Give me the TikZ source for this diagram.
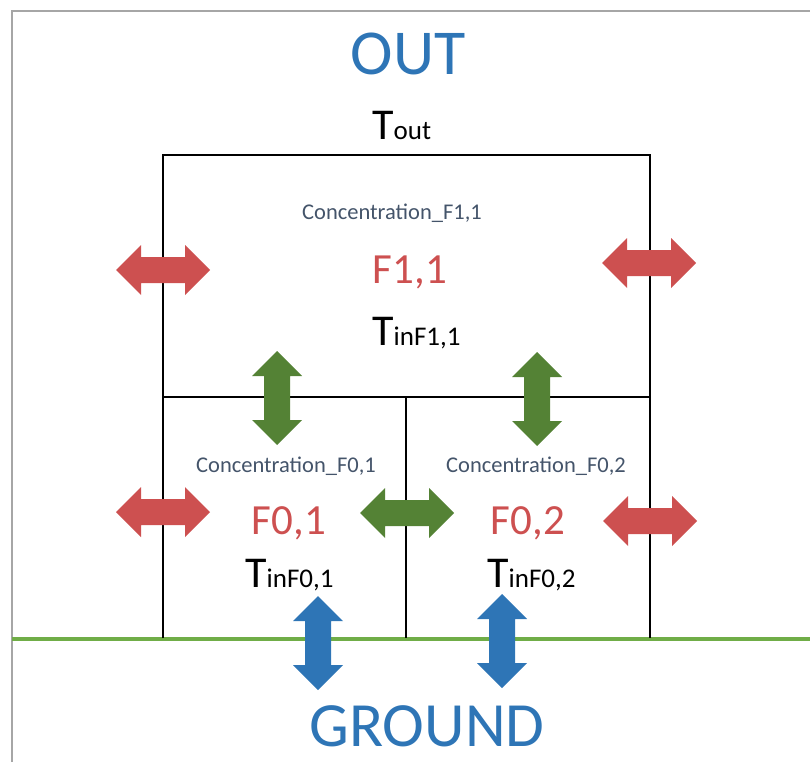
\documentclass[tikz,border=0pt]{standalone}
\usepackage{fontspec}
\setmainfont{Carlito}
\definecolor{outblue}{HTML}{2E75B6}
\definecolor{arrred}{HTML}{CD5050}
\definecolor{arrgreen}{HTML}{548235}
\definecolor{gndgreen}{HTML}{70AD47}
\definecolor{conctext}{HTML}{44546A}
\definecolor{bordergray}{HTML}{A6A6A6}
\begin{document}
\begin{tikzpicture}[x=1pt,y=-1pt,
  wall/.style={draw=black,line width=2.2pt},
  dblarrow/.pic={\path[pic actions] (-47,0) -- (-22,-25) -- (-22,-13) -- (22,-13) -- (22,-25) -- (47,0) -- (22,25) -- (22,13) -- (-22,13) -- (-22,25) -- cycle;},
  redarr/.style={fill=arrred},
  greenarr/.style={fill=arrgreen},
  bluearr/.style={fill=outblue},
  big/.style={font=\fontsize{64}{64}\selectfont,text=outblue,inner sep=0pt,anchor=base},
  fname/.style={font=\fontsize{43}{43}\selectfont,text=arrred,inner sep=0pt,anchor=base},
  conc/.style={font=\fontsize{22.5}{23}\selectfont,text=conctext,inner sep=0pt,anchor=base},
  temp/.style={inner sep=0pt,anchor=base west}
]
\useasboundingbox (0,0) rectangle (810,762);
% outer frame
\draw[bordergray,line width=2pt] (12,762) -- (12,11) -- (810,11);
% ground
\coordinate (gl) at (12,639);
\coordinate (gr) at (810,639);
\draw[gndgreen,line width=3.5pt] (gl) -- (gr);
% walls
\coordinate (a) at (163,638);
\coordinate (b) at (163,155);
\coordinate (c) at (650,155);
\coordinate (d) at (650,638);
\coordinate (m1) at (163,397);
\coordinate (m2) at (650,397);
\coordinate (v1) at (406,397);
\coordinate (v2) at (406,638);
\draw[wall] (a) -- (b) -- (c) -- (d);
\draw[wall] (m1) -- (m2);
\draw[wall] (v1) -- (v2);
% texts
\node[big] (out) at (408,75) {OUT};
\node[big,font=\fontsize{63}{63}\selectfont] (ground) at (427,746) {GROUND};
\node[temp] (tout) at (372,140) {\fontsize{44}{44}\selectfont T\fontsize{27}{27}\selectfont out};
\node[conc] (c11) at (392,219) {Concentration\_F1,1};
\node[fname] (f11) at (410,283) {F1,1};
\node[temp] (t11) at (372,345) {\fontsize{44}{44}\selectfont T\fontsize{27}{27}\selectfont inF1,1};
\node[conc] (c01) at (286,472) {Concentration\_F0,1};
\node[fname] (f01) at (289,534) {F0,1};
\node[temp] (t01) at (245,587) {\fontsize{44}{44}\selectfont T\fontsize{27}{27}\selectfont inF0,1};
\node[conc] (c02) at (536,472) {Concentration\_F0,2};
\node[fname] (f02) at (528,534) {F0,2};
\node[temp] (t02) at (487,587) {\fontsize{44}{44}\selectfont T\fontsize{27}{27}\selectfont inF0,2};
% arrows
\pic[redarr] at (163,270) {dblarrow};
\pic[redarr] at (649,263) {dblarrow};
\pic[redarr] at (163,512) {dblarrow};
\pic[redarr] at (650,521) {dblarrow};
\pic[greenarr] at (407,513) {dblarrow};
\pic[greenarr,rotate=90] at (277,398) {dblarrow};
\pic[greenarr,rotate=90] at (537,399) {dblarrow};
\pic[bluearr,rotate=90] at (318,643) {dblarrow};
\pic[bluearr,rotate=90] at (502,641) {dblarrow};
\end{tikzpicture}
\end{document}
